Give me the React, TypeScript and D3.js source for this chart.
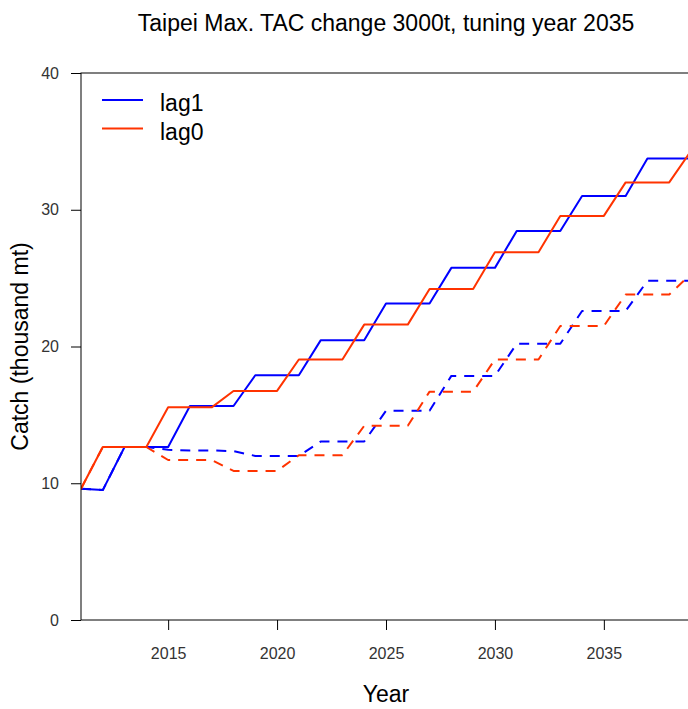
import React, { useEffect, useRef } from 'react';
import * as d3 from 'd3';

// Catch (thousand mt) by year
const years = [
  2011, 2012, 2013, 2014, 2015, 2016, 2017, 2018, 2019, 2020,
  2021, 2022, 2023, 2024, 2025, 2026, 2027, 2028, 2029, 2030,
  2031, 2032, 2033, 2034, 2035, 2036, 2037, 2038, 2039,
];

// lag1, solid
const lag1Upper = [
  9.6, 9.5, 12.65, 12.65, 12.65, 15.65, 15.65, 15.65, 17.9, 17.9,
  17.9, 20.45, 20.45, 20.45, 23.15, 23.15, 23.15, 25.75, 25.75, 25.75,
  28.45, 28.45, 28.45, 31.0, 31.0, 31.0, 33.75, 33.75, 33.75,
];

// lag1, dashed
const lag1Lower = [
  9.6, 9.5, 12.65, 12.65, 12.45, 12.4, 12.4, 12.35, 12.0, 12.0,
  12.0, 13.05, 13.05, 13.05, 15.3, 15.3, 15.3, 17.85, 17.85, 17.85,
  20.2, 20.2, 20.2, 22.6, 22.6, 22.6, 24.8, 24.8, 24.8,
];

// lag0, solid
const lag0Upper = [
  9.6, 12.65, 12.65, 12.65, 15.55, 15.55, 15.55, 16.75, 16.75, 16.75,
  19.05, 19.05, 19.05, 21.6, 21.6, 21.6, 24.2, 24.2, 24.2, 26.9,
  26.9, 26.9, 29.55, 29.55, 29.55, 32.0, 32.0, 32.0, 34.3,
];

// lag0, dashed
const lag0Lower = [
  9.6, 12.65, 12.65, 12.65, 11.7, 11.7, 11.7, 10.9, 10.9, 10.9,
  12.05, 12.05, 12.05, 14.2, 14.2, 14.2, 16.7, 16.7, 16.7, 19.05,
  19.05, 19.05, 21.5, 21.5, 21.5, 23.8, 23.8, 23.8, 25.3,
];

const xTicks = [2015, 2020, 2025, 2030, 2035];
const yTicks = [0, 10, 20, 30, 40];
const legendLabels = ['lag1', 'lag0'];

const BLUE = '#0000ff';
const RED = '#ff3300';
const FONT = '"Liberation Sans", Arial, sans-serif';

export default function App() {
  const svgRef = useRef<SVGSVGElement>(null);
  const width = 688;
  const height = 709;
  const plot = { left: 81, right: 691, top: 73, bottom: 620 };

  useEffect(() => {
    if (!svgRef.current) return;
    const svg = d3.select(svgRef.current);
    svg.selectAll('*').remove();

    const x = d3.scaleLinear().domain([2011, 2039]).range([plot.left, plot.right]);
    const y = d3.scaleLinear().domain([0, 40]).range([plot.bottom, plot.top]);

    svg.append('rect').attr('width', width).attr('height', height).attr('fill', '#ffffff');

    svg.append('clipPath').attr('id', 'plot-clip')
      .append('rect')
      .attr('x', plot.left)
      .attr('y', plot.top)
      .attr('width', plot.right - plot.left)
      .attr('height', plot.bottom - plot.top);

    // series, drawn in R order (lag1 first, lag0 on top)
    const series = [
      { values: lag1Upper, color: BLUE, dashed: false },
      { values: lag1Lower, color: BLUE, dashed: true },
      { values: lag0Upper, color: RED, dashed: false },
      { values: lag0Lower, color: RED, dashed: true },
    ];

    const line = d3.line<number>()
      .x((_, i) => x(years[i]))
      .y(d => y(d));

    const lines = svg.append('g').attr('clip-path', 'url(#plot-clip)');
    series.forEach(s => {
      lines.append('path')
        .attr('d', line(s.values))
        .attr('fill', 'none')
        .attr('stroke', s.color)
        .attr('stroke-width', 2)
        .attr('stroke-linejoin', 'round')
        .attr('stroke-linecap', s.dashed ? 'butt' : 'round')
        .attr('stroke-dasharray', s.dashed ? '10,8' : null);
    });

    // box
    svg.append('rect')
      .attr('x', plot.left)
      .attr('y', plot.top)
      .attr('width', plot.right - plot.left)
      .attr('height', plot.bottom - plot.top)
      .attr('fill', 'none')
      .attr('stroke', '#000')
      .attr('stroke-width', 1);

    // axes
    const yAxis = svg.append('g')
      .attr('transform', `translate(${plot.left},0)`)
      .call(d3.axisLeft(y).tickValues(yTicks).tickSize(10).tickPadding(12).tickFormat(d3.format('d')));
    const xAxis = svg.append('g')
      .attr('transform', `translate(0,${plot.bottom})`)
      .call(d3.axisBottom(x).tickValues(xTicks).tickSize(10).tickPadding(18).tickFormat(d3.format('d')));

    [yAxis, xAxis].forEach(ax => {
      ax.select('.domain').remove();
      ax.selectAll('line').attr('stroke', '#000').attr('stroke-width', 1);
      ax.selectAll('text')
        .attr('fill', '#333')
        .attr('font-size', 16)
        .attr('font-family', FONT);
    });

    // title
    svg.append('text')
      .attr('x', (plot.left + plot.right) / 2)
      .attr('y', 31)
      .attr('text-anchor', 'middle')
      .attr('font-family', FONT)
      .attr('font-size', 23)
      .attr('fill', '#000')
      .text('Taipei Max. TAC change 3000t, tuning year 2035');

    // axis titles
    svg.append('text')
      .attr('x', (plot.left + plot.right) / 2)
      .attr('y', 702)
      .attr('text-anchor', 'middle')
      .attr('font-family', FONT)
      .attr('font-size', 23)
      .attr('fill', '#000')
      .text('Year');

    svg.append('text')
      .attr('transform', `translate(28,${(plot.top + plot.bottom) / 2}) rotate(-90)`)
      .attr('text-anchor', 'middle')
      .attr('font-family', FONT)
      .attr('font-size', 23)
      .attr('fill', '#000')
      .text('Catch (thousand mt)');

    // legend
    const legend = svg.append('g');
    [BLUE, RED].forEach((color, i) => {
      const ly = 100 + i * 28.5;
      legend.append('line')
        .attr('x1', 102)
        .attr('x2', 143)
        .attr('y1', ly)
        .attr('y2', ly)
        .attr('stroke', color)
        .attr('stroke-width', 2);
      legend.append('text')
        .attr('x', 160)
        .attr('y', ly + 11)
        .attr('font-family', FONT)
        .attr('font-size', 23)
        .attr('fill', '#000')
        .text(legendLabels[i]);
    });
  }, []);

  return (
    <div style={{ position: 'absolute', left: 0, top: 0, width, height, background: '#fff' }}>
      <svg ref={svgRef} width={width} height={height} style={{ display: 'block' }} />
    </div>
  );
}
